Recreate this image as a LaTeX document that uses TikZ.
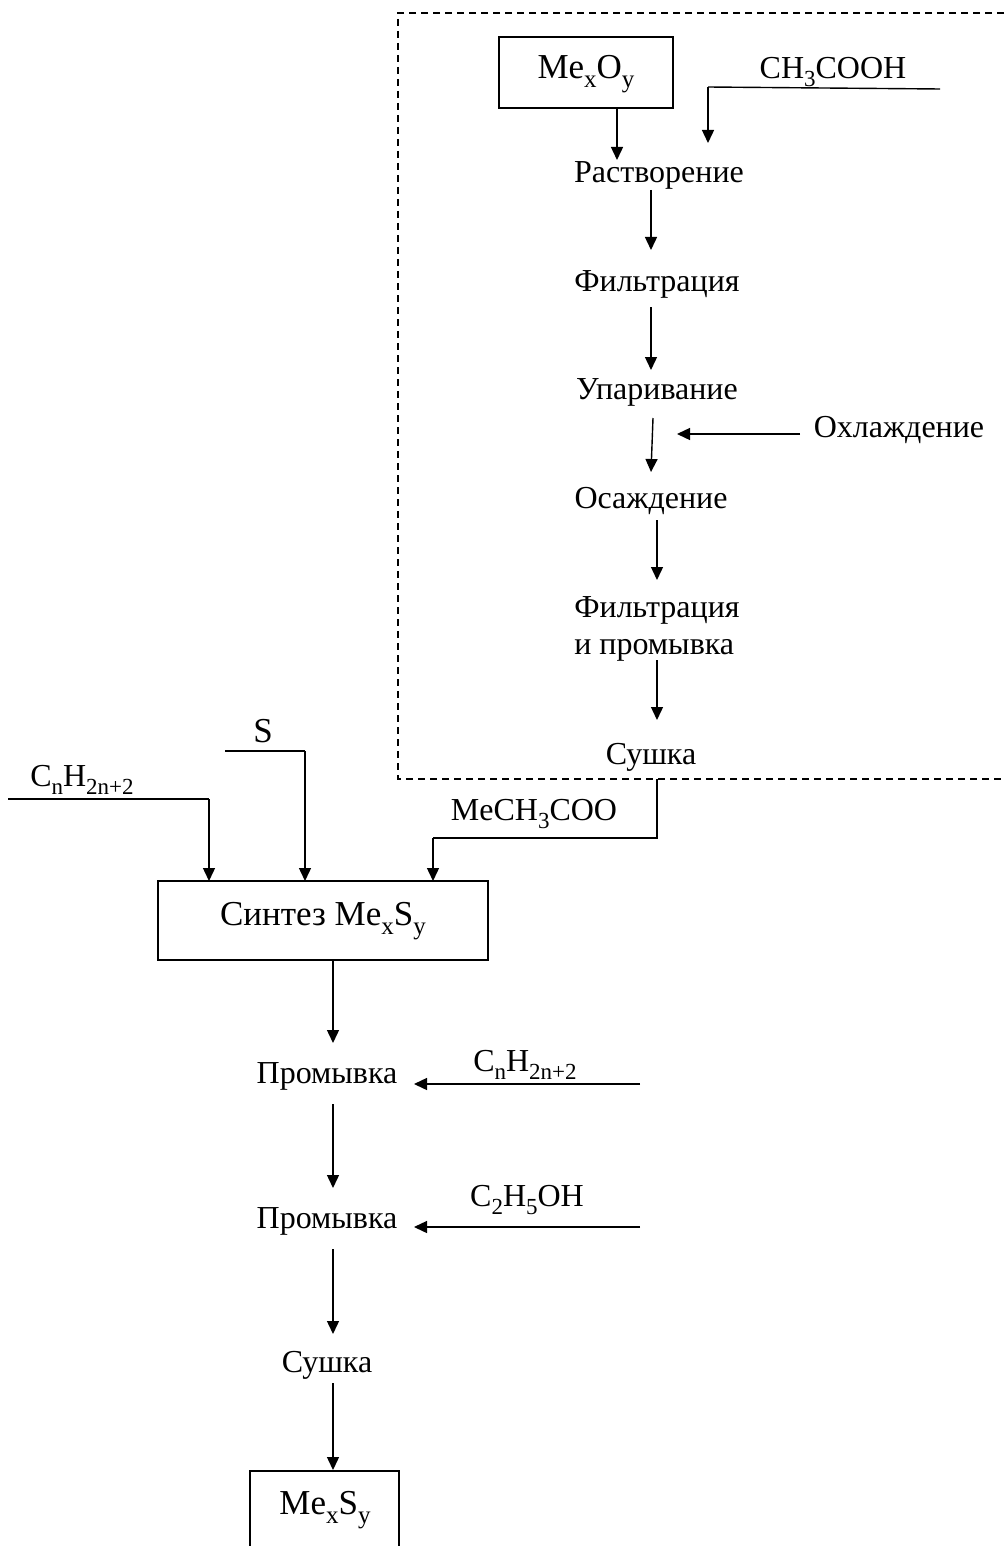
\documentclass[tikz,border=0pt]{standalone}
\usepackage{fontspec}
\setmainfont{Liberation Serif}
\usetikzlibrary{arrows.meta}
\newcommand\sbs[1]{\raisebox{-0.24em}{\fontsize{23}{23}\selectfont #1}}
\newcommand\sbb[1]{\raisebox{-0.24em}{\fontsize{25}{25}\selectfont #1}}
\begin{document}
\begin{tikzpicture}[x=1pt,y=-1pt,
  lbl/.style={inner sep=0pt,font=\fontsize{32}{37}\selectfont},
  big/.style={inner sep=0pt,font=\fontsize{35}{40}\selectfont},
  ln/.style={line width=1.4pt},
  arr/.style={line width=1.4pt,-{Triangle[length=13pt,width=12pt]}},
  boxs/.style={draw,line width=1.4pt,inner sep=0pt}]
\useasboundingbox (0,0) rectangle (1004,1546);
% dashed region
\draw[line width=1.4pt,dash pattern=on 7pt off 5pt] (1004,13) -- (398,13) -- (398,779) -- (1004,779);
% top chain
\node[boxs,minimum width=174pt,minimum height=71pt] (ox) at (586,72.5) {};
\node[big] (oxt) at (586,74) {Me\sbb{x}O\sbb{y}};
\node[lbl] (acid) at (833,72) {CH\sbs{3}COOH};
\coordinate (acidR) at (940,89);
\coordinate (acidL) at (708,87);
\node[lbl] (r1) at (659,175) {Растворение};
\node[lbl] (r2) at (657,284) {Фильтрация};
\node[lbl] (r3) at (657,392) {Упаривание};
\node[lbl] (cool) at (899,430) {Охлаждение};
\node[lbl] (r4) at (651,501) {Осаждение};
\node[lbl,align=left] (r5) at (657,629) {Фильтрация\\и промывка};
\node[lbl] (r6) at (651,757) {Сушка};
\draw[arr] (ox.south -| 617,0) -- (617,160);
\draw[ln] (acidR) -- (acidL);
\draw[arr] (acidL) -- (708,143);
\draw[arr] (651,190) -- (651,250);
\draw[arr] (651,307) -- (651,370);
\draw[arr] (653,418) -- (651,472);
\draw[arr] (800,434) -- (677,434);
\draw[arr] (657,520) -- (657,580);
\draw[arr] (657,660) -- (657,720);
% synthesis inputs
\node[boxs,minimum width=330pt,minimum height=79pt] (syn) at (323,920.5) {};
\node[big] (synt) at (323,921) {Синтез Me\sbb{x}S\sbb{y}};
\node[lbl] (mac) at (534,814) {MeCH\sbs{3}COO};
\node[big] (sulf) at (263,731) {S};
\node[lbl] (alk) at (82,780) {C\sbs{n}H\sbs{2n+2}};
\coordinate (sL) at (225,751);
\coordinate (aL) at (8,799);
\draw[ln] (657,779) -- (657,838) -- (433,838);
\draw[arr] (433,838) -- (433,881);
\draw[ln] (sL) -- (305,751);
\draw[arr] (305,751) -- (305,881);
\draw[ln] (aL) -- (209,799);
\draw[arr] (209,799) -- (209,881);
% bottom chain
\node[lbl] (w1) at (327,1076) {Промывка};
\node[lbl] (w2) at (327,1221) {Промывка};
\node[lbl] (dr) at (327,1365) {Сушка};
\node[lbl] (hex) at (525,1065) {C\sbs{n}H\sbs{2n+2}};
\node[lbl] (eth) at (527,1200) {C\sbs{2}H\sbs{5}OH};
\coordinate (hexR) at (640,1084);
\coordinate (ethR) at (640,1227);
\draw[arr] (333,960) -- (333,1043);
\draw[arr] (hexR) -- (414,1084);
\draw[arr] (333,1104) -- (333,1188);
\draw[arr] (ethR) -- (414,1227);
\draw[arr] (333,1249) -- (333,1334);
\draw[arr] (333,1383) -- (333,1470);
% final product (box cut by the page edge)
\draw[line width=1.4pt] (250,1546) -- (250,1471) -- (399,1471) -- (399,1546);
\node[big] (prod) at (325,1510) {Me\sbb{x}S\sbb{y}};
\end{tikzpicture}
\end{document}
